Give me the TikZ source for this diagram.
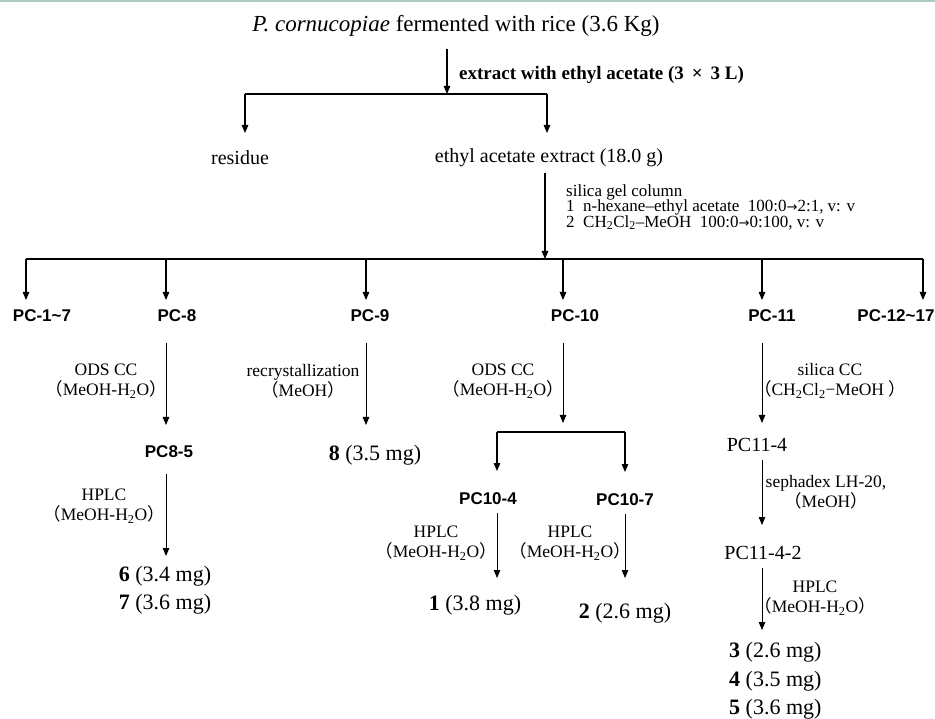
\documentclass[tikz,border=0pt]{standalone}
\usepackage{fontspec}
\setmainfont{Liberation Serif}
\newfontfamily\pcfont{Liberation Sans}
\newfontfamily\cjkfont{Noto Sans CJK SC}
\newfontfamily\symfont{DejaVu Sans}
\usetikzlibrary{arrows.meta}
\newcommand{\lpar}{{\cjkfont （}}
\newcommand{\rpar}{{\cjkfont ）}}
\newcommand{\sbs}[1]{\textsubscript{#1}}
\newcommand{\rarr}{{\symfont\fontsize{13}{15}\selectfont →}}
\definecolor{topline}{RGB}{172,204,188}
\tikzset{
  arr/.style={draw, line width=1.1pt, -{Triangle[length=8pt,width=6.5pt]}},
  arrthin/.style={draw, line width=0.8pt, -{Triangle[length=8pt,width=6.5pt]}},
  brk/.style={draw, line width=1.1pt},
  pclab/.style={font=\pcfont\bfseries\fontsize{17}{20}\selectfont, inner sep=0pt},
  serlab/.style={font=\fontsize{20}{24}\selectfont, inner sep=0pt},
  smalllab/.style={font=\fontsize{17.5}{20}\selectfont, inner sep=0pt, align=center},
  prod/.style={font=\fontsize{22}{28}\selectfont, inner sep=0pt, align=left},
}
\begin{document}
\begin{tikzpicture}[x=1pt,y=-1pt]
\useasboundingbox (0,0) rectangle (935,719);
\fill[white] (0,0) rectangle (935,719);
\fill[topline] (0,0) rectangle (935,1.6);

% top part
\node[font=\fontsize{23}{27}\selectfont, inner sep=0pt] (title) at (456,26) {\textit{P. cornucopiae} fermented with rice (3.6 Kg)};
\node[font=\bfseries\fontsize{19}{22}\selectfont, inner sep=0pt, anchor=west] (ext) at (459,75) {extract with ethyl acetate (3 \,×\, 3 L)};
\coordinate (j1) at (447,94);
\coordinate (bl) at (245,94);
\coordinate (br) at (547,94);
\node[serlab] (residue) at (240,158) {residue};
\node[serlab] (extr) at (549,158) {ethyl acetate extract (18.0 g)};
\draw[arr, shorten <=23pt] (title -| j1) -- (j1);
\draw[brk] (bl) -- (br);
\draw[arr, shorten >=25pt] (bl) -- (bl |- residue);
\draw[arr, shorten >=25pt] (br) -- (br |- extr);

\node[font=\fontsize{17}{15.5}\selectfont, inner sep=0pt, align=left, anchor=west] (silica) at (566,207)
  {silica gel column\\1~~n-hexane–ethyl acetate~~100:0\rarr 2:1, v: v\\2~~CH\sbs{2}Cl\sbs{2}–MeOH~~100:0\rarr 0:100, v: v};
\coordinate (j2) at (545,259);
\draw[arr, shorten <=15pt] (extr -| j2) -- (j2);

% second level
\coordinate (b1) at (26,259);
\coordinate (b2) at (166,259);
\coordinate (b3) at (366,259);
\coordinate (b4) at (563,259);
\coordinate (b5) at (762,259);
\coordinate (b6) at (923,259);
\draw[brk] (b1) -- (b6);
\node[pclab] (pc17) at (42,316) {PC-1\textasciitilde 7};
\node[pclab] (pc8) at (177,316) {PC-8};
\node[pclab] (pc9) at (370,316) {PC-9};
\node[pclab] (pc10) at (575,316) {PC-10};
\node[pclab] (pc11) at (772,316) {PC-11};
\node[pclab] (pc1217) at (896,316) {PC-12\textasciitilde 17};
\foreach \b/\n in {b1/pc17,b2/pc8,b3/pc9,b4/pc10,b5/pc11,b6/pc1217}
  \draw[arr, shorten >=16pt] (\b) -- (\b |- \n);

% PC-8 branch
\node[smalllab] (ods8) at (106,381) {ODS CC\\\lpar MeOH-H\sbs{2}O\rpar};
\node[pclab] (pc85) at (169,452) {PC8-5};
\draw[arrthin, shorten <=27pt, shorten >=27pt] (pc8 -| b2) -- (pc85 -| b2);
\node[smalllab] (hplc8) at (104,506) {HPLC\\\lpar MeOH-H\sbs{2}O\rpar};
\node[prod, align=center] (p67) at (165,590) {\textbf{6} (3.4 mg)\\\textbf{7} (3.6 mg)};
\draw[arrthin, shorten <=22pt, shorten >=34pt] (pc85 -| b2) -- (p67 -| b2);

% PC-9 branch
\node[smalllab] (rec9) at (303,381) {recrystallization\\\lpar MeOH\rpar};
\node[prod] (p8) at (375,455) {\textbf{8} (3.5 mg)};
\draw[arrthin, shorten <=27pt, shorten >=30pt] (pc9 -| b3) -- (p8 -| b3);

% PC-10 branch
\node[smalllab] (ods10) at (503,381) {ODS CC\\\lpar MeOH-H\sbs{2}O\rpar};
\coordinate (j10) at (563,432);
\coordinate (k1) at (497,432);
\coordinate (k2) at (625,432);
\draw[arrthin, shorten <=27pt, shorten >=9pt] (pc10 -| j10) -- (j10);
\draw[brk] (k1) -- (k2);
\node[pclab] (pc104) at (488,499) {PC10-4};
\node[pclab] (pc107) at (625,500) {PC10-7};
\draw[arr, shorten >=28pt] (k1) -- (k1 |- pc104);
\draw[arr, shorten >=28pt] (k2) -- (k2 |- pc107);
\node[smalllab] (hplc104) at (436,543) {HPLC\\\lpar MeOH-H\sbs{2}O\rpar};
\node[smalllab] (hplc107) at (570,543) {HPLC\\\lpar MeOH-H\sbs{2}O\rpar};
\node[prod] (p1) at (475,605) {\textbf{1} (3.8 mg)};
\node[prod] (p2) at (625,613) {\textbf{2} (2.6 mg)};
\draw[arrthin, shorten <=14pt, shorten >=27pt] (pc104 -| k1) -- (p1 -| k1);
\draw[arrthin, shorten <=14pt, shorten >=35pt] (pc107 -| k2) -- (p2 -| k2);

% PC-11 branch
\node[smalllab] (sil11) at (830,381) {silica CC\\\lpar CH\sbs{2}Cl\sbs{2}−MeOH \rpar};
\node[serlab] (pc114) at (757,445) {PC11-4};
\draw[arrthin, shorten <=27pt, shorten >=22pt] (pc11 -| b5) -- (pc114 -| b5);
\node[smalllab] (seph) at (826,492) {sephadex LH-20,\\\lpar MeOH\rpar};
\node[serlab] (pc1142) at (763,553) {PC11-4-2};
\draw[arrthin, shorten <=15pt, shorten >=28pt] (pc114 -| b5) -- (pc1142 -| b5);
\node[smalllab] (hplc11) at (815,598) {HPLC\\\lpar MeOH-H\sbs{2}O\rpar};
\node[prod, anchor=west, font=\fontsize{22}{28.5}\selectfont] (p345) at (729,681) {\textbf{3} (2.6 mg)\\\textbf{4} (3.5 mg)\\\textbf{5} (3.6 mg)};
\draw[arrthin, shorten <=15pt, shorten >=51pt] (pc1142 -| b5) -- (p345 -| b5);
\end{tikzpicture}
\end{document}
